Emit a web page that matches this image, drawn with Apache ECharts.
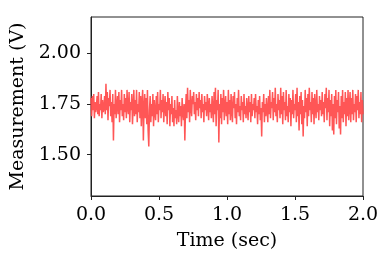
<!DOCTYPE html>
<html>
<head>
<meta charset="utf-8">
<script src="https://cdn.jsdelivr.net/npm/echarts@6/dist/echarts.min.js"></script>
<style>html,body{margin:0;padding:0;background:#fff}#c{width:390px;height:264px}</style>
</head>
<body>
<div id="c"></div>
<script>
var startTime = 0.0;
var timeStep = 0.005;
var measurement = [
1.78,1.69,1.79,1.72,1.80,1.68,1.76,1.71,1.74,1.79,1.70,1.81,1.69,1.75,1.72,1.80,1.68,1.77,1.71,1.73,
1.79,1.70,1.85,1.72,1.81,1.67,1.78,1.74,1.82,1.69,1.76,1.66,1.80,1.57,1.75,1.70,1.82,1.68,1.74,1.79,
1.70,1.81,1.66,1.77,1.72,1.82,1.69,1.75,1.67,1.80,1.71,1.78,1.68,1.82,1.73,1.70,1.81,1.66,1.76,1.72,
1.80,1.65,1.74,1.82,1.69,1.77,1.70,1.82,1.66,1.75,1.71,1.81,1.68,1.79,1.64,1.76,1.82,1.57,1.73,1.80,
1.68,1.78,1.65,1.82,1.62,1.54,1.72,1.79,1.66,1.75,1.69,1.80,1.64,1.77,1.71,1.67,1.79,1.70,1.81,1.66,
1.75,1.72,1.82,1.68,1.77,1.71,1.80,1.66,1.74,1.79,1.69,1.76,1.65,1.81,1.72,1.78,1.64,1.75,1.70,1.79,
1.66,1.73,1.64,1.77,1.68,1.72,1.65,1.79,1.70,1.66,1.76,1.69,1.74,1.64,1.78,1.71,1.67,1.75,1.57,1.72,
1.80,1.68,1.83,1.71,1.77,1.66,1.82,1.73,1.69,1.79,1.75,1.81,1.70,1.76,1.67,1.80,1.72,1.78,1.69,1.81,
1.73,1.77,1.68,1.80,1.71,1.75,1.66,1.79,1.72,1.76,1.69,1.80,1.74,1.67,1.78,1.71,1.75,1.68,1.79,1.73,
1.66,1.81,1.70,1.83,1.64,1.77,1.72,1.82,1.56,1.75,1.68,1.80,1.65,1.78,1.71,1.82,1.67,1.74,1.79,1.69,
1.76,1.65,1.82,1.70,1.77,1.67,1.80,1.72,1.66,1.79,1.73,1.81,1.68,1.75,1.65,1.78,1.71,1.82,1.69,1.74,
1.67,1.79,1.72,1.76,1.66,1.80,1.70,1.74,1.68,1.78,1.73,1.67,1.79,1.71,1.76,1.66,1.80,1.69,1.75,1.72,
1.78,1.68,1.80,1.71,1.74,1.65,1.77,1.70,1.79,1.67,1.73,1.59,1.76,1.71,1.80,1.66,1.75,1.69,1.78,1.72,
1.66,1.79,1.70,1.82,1.68,1.76,1.73,1.81,1.67,1.78,1.71,1.83,1.69,1.75,1.66,1.80,1.72,1.77,1.68,1.83,
1.70,1.79,1.65,1.81,1.72,1.76,1.67,1.82,1.69,1.74,1.66,1.80,1.71,1.78,1.64,1.77,1.70,1.82,1.68,1.75,
1.72,1.80,1.66,1.83,1.69,1.76,1.62,1.79,1.70,1.81,1.65,1.77,1.59,1.74,1.68,1.82,1.71,1.78,1.64,1.80,
1.69,1.83,1.72,1.76,1.66,1.81,1.70,1.78,1.65,1.80,1.73,1.68,1.82,1.71,1.75,1.67,1.79,1.72,1.77,1.69,
1.81,1.70,1.76,1.66,1.80,1.73,1.83,1.67,1.78,1.71,1.82,1.64,1.77,1.69,1.80,1.62,1.75,1.60,1.79,1.68,
1.82,1.65,1.77,1.71,1.81,1.63,1.74,1.60,1.79,1.68,1.82,1.66,1.76,1.70,1.81,1.64,1.78,1.69,1.82,1.67,
1.74,1.81,1.66,1.78,1.70,1.82,1.67,1.75,1.71,1.80,1.66,1.79,1.72,1.82,1.68,1.76,1.70,1.81,1.66,1.77,
1.70
];
var xTicks = [0.0, 0.5, 1.0, 1.5, 2.0];
var yTicks = [1.50, 1.75, 2.00];

var pts = measurement.map(function (v, i) { return [startTime + i * timeStep, v]; });
var font = 'DejaVu Serif';
var chart = echarts.init(document.getElementById('c'), null, {renderer: 'canvas'});
chart.setOption({
  animation: false,
  backgroundColor: '#fff',
  grid: {left: 91, right: 27, top: 17, bottom: 68, show: true, borderColor: '#222', borderWidth: 1, backgroundColor: 'transparent'},
  xAxis: {
    type: 'value', min: 0, max: 2,
    name: 'Time (sec)', nameLocation: 'middle', nameGap: 36,
    nameTextStyle: {fontFamily: font, fontSize: 19, color: '#000'},
    axisLine: {show: true, onZero: false, lineStyle: {color: '#222', width: 1}},
    axisTick: {show: true, inside: false, length: 4, lineStyle: {color: '#222'}, customValues: xTicks},
    axisLabel: {fontFamily: font, fontSize: 19, color: '#000', margin: 10, customValues: xTicks,
      formatter: function (v) { return v.toFixed(1); }},
    splitLine: {show: false}
  },
  yAxis: {
    type: 'value', min: 1.296, max: 2.18,
    name: 'Measurement (V)', nameLocation: 'middle', nameGap: 61,
    nameTextStyle: {fontFamily: font, fontSize: 19, color: '#000'},
    axisLine: {show: true, onZero: false, lineStyle: {color: '#222', width: 1}},
    axisTick: {show: true, inside: false, length: 4, lineStyle: {color: '#222'}, customValues: yTicks},
    axisLabel: {fontFamily: font, fontSize: 19, color: '#000', margin: 10, customValues: yTicks,
      formatter: function (v) { return v.toFixed(2); }},
    splitLine: {show: false}
  },
  series: [{
    type: 'line', data: pts, showSymbol: false, symbol: 'none',
    lineStyle: {color: '#ff4d4d', width: 1.5, opacity: 0.95},
    clip: true
  }]
});
</script>
</body>
</html>
